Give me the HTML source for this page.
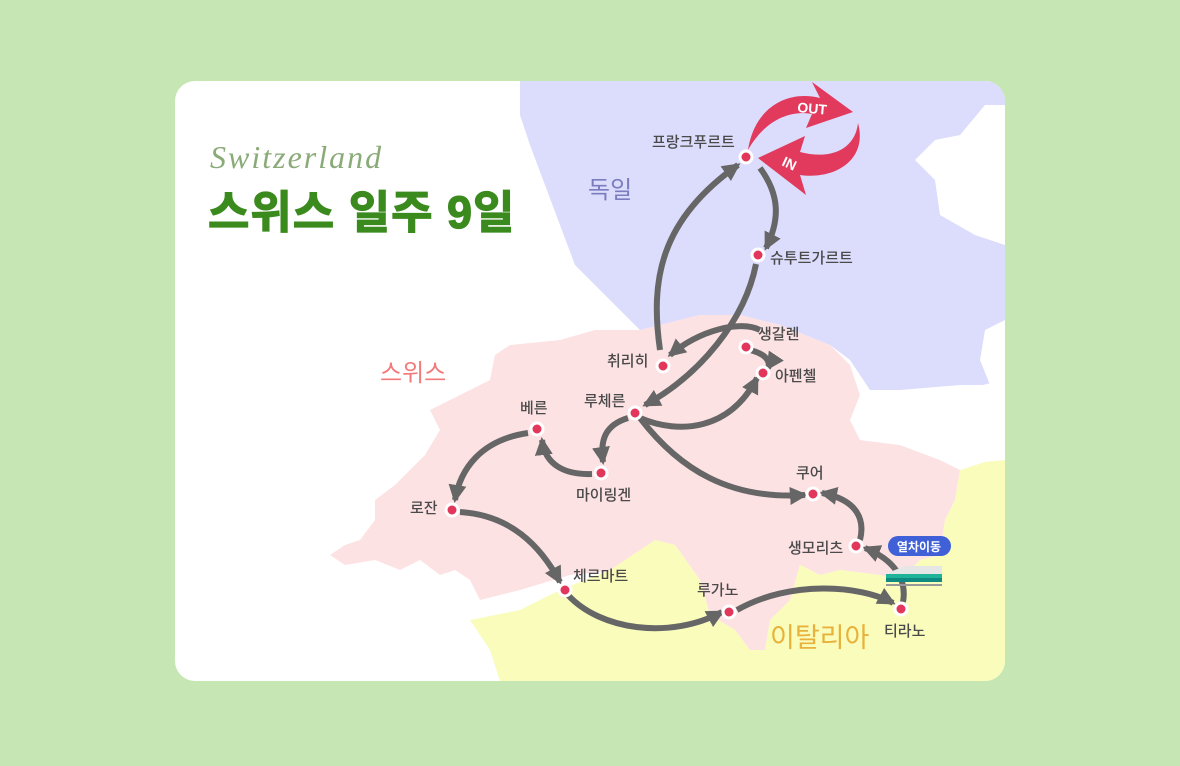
<!DOCTYPE html>
<html><head><meta charset="utf-8"><style>
html,body{margin:0;padding:0;background:#c6e6b4;width:1180px;height:766px;overflow:hidden}
svg{display:block}
text{font-family:"Liberation Sans","Noto Sans CJK KR",sans-serif}
.lb{font-size:15px;fill:#4a4a4a;font-weight:500}
</style></head><body>
<svg width="1180" height="766" viewBox="0 0 1180 766" xmlns="http://www.w3.org/2000/svg">
<defs>
<clipPath id="card"><rect x="175" y="81" width="830" height="600" rx="20"/></clipPath>
<marker id="ah" markerUnits="userSpaceOnUse" markerWidth="20" markerHeight="18" refX="15" refY="9" orient="auto">
<path d="M0,0 L18,9 L0,18 Z" fill="#666"/></marker>
</defs>
<rect x="175" y="81" width="830" height="600" rx="20" fill="#fff"/>
<g clip-path="url(#card)">
<path d="M520,81 L1005,81 L1005,105 L985,105 L960,135 L935,140 L915,160 L935,180 L940,215 L975,235 L1005,245 L1005,320 L985,330 L980,360 L990,385 L960,385 L900,390 L870,390 L850,360 L830,345 L780,325 L740,315 L700,315 L660,325 L640,330 L610,300 L575,265 L560,225 L545,185 L530,145 L520,115 Z" fill="#dcdcfc"/>
<path d="M330,555 L345,545 L360,540 L375,520 L375,500 L395,485 L425,455 L440,430 L430,410 L460,395 L490,380 L495,355 L510,345 L560,340 L595,330 L640,330 L660,325 L700,315 L740,315 L780,325 L830,345 L850,365 L860,395 L850,420 L860,440 L900,445 L940,460 L960,470 L955,500 L945,520 L940,555 L920,560 L900,580 L880,575 L840,570 L820,575 L800,565 L790,600 L770,620 L765,650 L750,650 L735,630 L710,615 L700,580 L675,545 L655,540 L620,570 L570,575 L520,590 L480,600 L470,580 L455,570 L440,575 L420,560 L400,570 L375,560 L345,565 Z" fill="#fde2e4"/>
<path d="M470,620 L520,610 L560,590 L610,570 L655,540 L675,545 L700,580 L710,615 L735,630 L750,650 L765,650 L770,620 L790,600 L800,565 L820,575 L840,570 L880,575 L900,580 L920,560 L940,555 L945,520 L955,500 L960,470 L990,460 L1005,460 L1005,681 L500,681 L490,650 Z" fill="#fafcbc"/>
<path d="M1005,380 L960,390 L930,395 L905,410 L880,420 L850,420 L860,440 L900,445 L940,460 L960,470 L985,462 L1005,460 Z" fill="#fff"/>
</g>
<text x="210" y="168" font-style="italic" font-size="32" fill="#8aab78" letter-spacing="2" style="font-family:'Liberation Serif',serif">Switzerland</text>
<text x="208" y="228" font-size="45" font-weight="bold" fill="#3a8a1e" letter-spacing="1" stroke="#3a8a1e" stroke-width="1.2">스위스 일주 9일</text>
<text x="588" y="198" font-size="24" fill="#7c7cc0">독일</text>
<text x="380" y="381" font-size="24" fill="#f27a7a">스위스</text>
<text x="770" y="647" font-size="27" fill="#e8b23a">이탈리아</text>
<path d="M748,150 C755,105 790,90 820,98 L812,82 L853,112 L806,128 L812,114 C790,110 765,120 748,150 Z" fill="#e23a5c"/>
<text x="797" y="112" font-size="14" font-weight="bold" fill="#fff" transform="rotate(5 797 112)">OUT</text>
<path d="M858,123 C868,160 835,180 800,175 L806,195 L758,158 L805,136 L800,152 C830,160 855,150 858,123 Z" fill="#e23a5c"/>
<text x="781" y="165" font-size="14" font-weight="bold" fill="#fff" transform="rotate(25 781 165)">IN</text>
<g fill="none" stroke="#666" stroke-width="6" marker-end="url(#ah)">
<path d="M660,350 C650,280 660,220 738,165"/>
<path d="M760,168 C780,195 780,220 766,248"/>
<path d="M756,264 C745,320 700,375 645,405"/>
<path d="M760,330 C740,320 700,330 670,355"/>
<path d="M750,350 C770,355 770,365 768,368"/>
<path d="M640,418 C680,435 730,430 757,378"/>
<path d="M640,418 C680,470 730,500 805,495"/>
<path d="M628,418 C605,425 600,440 603,462"/>
<path d="M592,474 C565,475 545,465 542,440"/>
<path d="M528,433 C480,440 460,470 455,500"/>
<path d="M460,512 C510,515 540,545 560,582"/>
<path d="M568,595 C600,630 670,640 722,612"/>
<path d="M737,610 C790,580 860,585 893,603"/>
<path d="M860,540 C865,520 858,500 822,493"/>
<path d="M903,602 C907,580 895,560 865,548"/>
</g>
<g fill="#e2365a" stroke="#fff" stroke-width="3">
<circle cx="746" cy="157" r="6"/><circle cx="758" cy="255" r="6"/><circle cx="746" cy="347" r="6"/>
<circle cx="763" cy="373" r="6"/><circle cx="663" cy="366" r="6"/><circle cx="635" cy="413" r="6"/>
<circle cx="537" cy="429" r="6"/><circle cx="601" cy="473" r="6"/><circle cx="452" cy="510" r="6"/>
<circle cx="565" cy="590" r="6"/><circle cx="729" cy="612" r="6"/><circle cx="901" cy="609" r="6"/>
<circle cx="856" cy="546" r="6"/><circle cx="813" cy="494" r="6"/>
</g>
<text class="lb" x="652" y="147">프랑크푸르트</text>
<text class="lb" x="770" y="263">슈투트가르트</text>
<text class="lb" x="758" y="339">생갈렌</text>
<text class="lb" x="775" y="381">아펜첼</text>
<text class="lb" x="607" y="366">취리히</text>
<text class="lb" x="584" y="406">루체른</text>
<text class="lb" x="520" y="413">베른</text>
<text class="lb" x="576" y="500">마이링겐</text>
<text class="lb" x="410" y="513">로잔</text>
<text class="lb" x="573" y="581">체르마트</text>
<text class="lb" x="697" y="595">루가노</text>
<text class="lb" x="884" y="636">티라노</text>
<text class="lb" x="788" y="553">생모리츠</text>
<text class="lb" x="796" y="478">쿠어</text>
<rect x="888" y="536" width="63" height="20" rx="10" fill="#4060d8"/>
<text x="919" y="551" font-size="12" font-weight="bold" fill="#fff" text-anchor="middle">열차이동</text>
<path d="M886,582 L890,572 L905,566 L942,566 L942,582 Z" fill="#e6e6e6"/>
<rect x="886" y="574" width="56" height="4" fill="#1fb39a"/>
<rect x="886" y="578" width="56" height="4" fill="#0f8a80"/>
<rect x="886" y="584" width="56" height="2" fill="#999"/>
</svg>
</body></html>
